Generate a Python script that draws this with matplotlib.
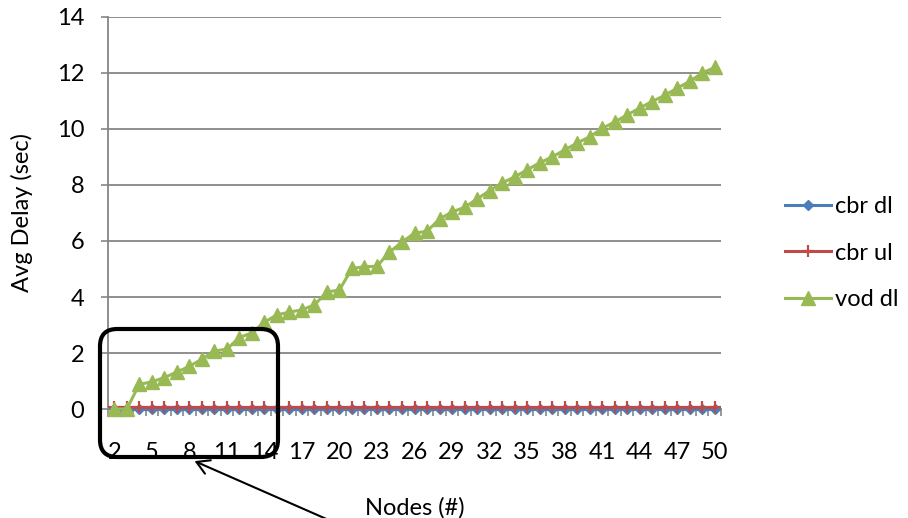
import matplotlib
matplotlib.use('Agg')
import matplotlib.pyplot as plt
from matplotlib.patches import FancyBboxPatch

plt.rcParams['font.family'] = ['Lato', 'DejaVu Sans']

# node counts on the x axis
nodes = list(range(2, 51))
tick_every = 3

# average delay per node count (sec)
cbr_dl = [0.0] * 49
cbr_ul = [0.07] * 49
vod_dl = [0.0, 0.0, 0.88, 0.97, 1.12, 1.32, 1.52, 1.78, 2.07, 2.14,
          2.55, 2.72, 3.1, 3.36, 3.46, 3.54, 3.72, 4.18, 4.25, 5.02,
          5.08, 5.1, 5.6, 5.96, 6.28, 6.35, 6.78, 7.04, 7.2, 7.5,
          7.8, 8.07, 8.29, 8.54, 8.79, 9.0, 9.25, 9.5, 9.72, 10.02,
          10.25, 10.5, 10.75, 10.98, 11.2, 11.46, 11.7, 12.0, 12.2]

grid_c = '#868686'
fs = 17

fig = plt.figure(figsize=(9.08, 5.18), dpi=100)
ax = fig.add_axes([108 / 908, 1 - 409 / 518, (721 - 108) / 908, (409 - 17) / 518])

x = range(len(nodes))
ax.plot(x, cbr_dl, color='#4A7EBB', lw=2.2, marker='D', ms=5.5, label='cbr dl', zorder=3, clip_on=False)
ax.plot(x, cbr_ul, color='#BE4B48', lw=2.2, marker='+', ms=9, mew=1.6, label='cbr ul', zorder=4, clip_on=False)
ax.plot(x, vod_dl, color='#98B954', lw=2.2, marker='^', ms=9.5, label='vod dl', zorder=5, clip_on=False)

ax.set_xlim(-0.5, len(nodes) - 0.5)
ax.set_ylim(0, 14)
ax.set_yticks(range(0, 15, 2))
ax.yaxis.grid(True, color=grid_c, lw=1.3)
ax.set_axisbelow(True)

# category labels every third node, tick marks between categories
ax.set_xticks(list(x)[::tick_every])
ax.set_xticklabels([str(n) for n in nodes[::tick_every]])
ax.set_xticks([i - 0.5 for i in range(len(nodes) + 1)], minor=True)
ax.tick_params(axis='x', which='major', length=0, pad=24, labelsize=fs)
ax.tick_params(axis='x', which='minor', length=5, color=grid_c, width=1.2)
ax.tick_params(axis='y', length=5, color=grid_c, width=1.2, pad=12, labelsize=fs)

for s in ['top', 'right']:
    ax.spines[s].set_visible(False)
for s in ['left', 'bottom']:
    ax.spines[s].set_color(grid_c)
    ax.spines[s].set_linewidth(1.3)

ax.set_xlabel('Nodes (#)', fontsize=fs)
ax.xaxis.set_label_coords(0.5, -0.225)
ax.set_ylabel('Avg Delay (sec)', fontsize=fs)
ax.yaxis.set_label_coords(-0.122, 0.5)

fig.legend(loc='center left', bbox_to_anchor=(785 / 908, 1 - 253 / 518), frameon=False,
           fontsize=fs, handlelength=1.95, handletextpad=0.15, labelspacing=1.08,
           borderpad=0, borderaxespad=0)

# highlight box around the first few node counts
box = FancyBboxPatch((100 / 908, 1 - 457 / 518), 178 / 908, 128 / 518,
                     boxstyle='round,pad=0,rounding_size=0.019', mutation_aspect=908 / 518,
                     transform=fig.transFigure, fill=False, ec='black', lw=3, zorder=10)
fig.patches.append(box)

fig.add_artist(matplotlib.patches.FancyArrowPatch(
    (336 / 908, -0.01), (192 / 908, 1 - 460 / 518), transform=fig.transFigure,
    arrowstyle='->,head_length=0.6,head_width=0.35', mutation_scale=15,
    color='black', lw=1.5, zorder=10))

fig.savefig('out.png', dpi=100)
